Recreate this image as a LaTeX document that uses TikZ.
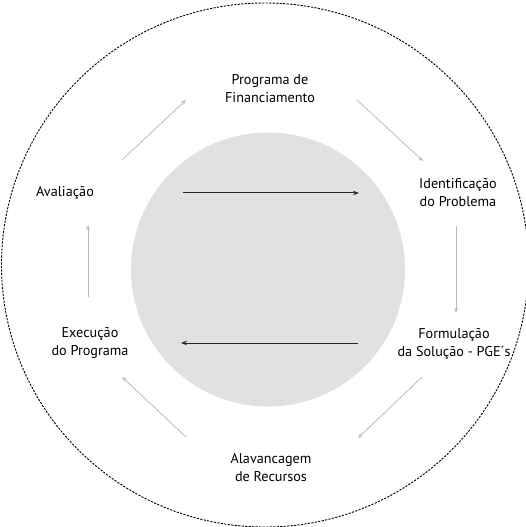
\documentclass[tikz,border=0pt]{standalone}
\usepackage{fontspec}
\setmainfont{PT Sans}
\usetikzlibrary{arrows.meta}
\definecolor{circgray}{HTML}{E1E1E3}
\definecolor{arrgray}{HTML}{BBBBBB}
\begin{document}
\begin{tikzpicture}[x=1bp,y=-1bp,
  lbl/.style={align=center,font=\fontsize{14.2bp}{18bp}\selectfont,text=black,inner sep=0pt},
  cyc/.style={draw=arrgray,line width=0.8bp,-{Stealth[length=5bp,width=4bp]}},
  mainarr/.style={draw=black!85,line width=1bp,-{Stealth[length=6bp,width=4.5bp]}}]
\useasboundingbox (0,0) rectangle (526,527);
\draw[black,line width=0.9bp,dash pattern=on 2.2bp off 1.3bp] (265,265) ellipse [x radius=263.5, y radius=262];
\fill[circgray] (268,269.5) circle [radius=137];
\node[lbl] (prog) at (270,89) {Programa de\\Financiamento};
\node[lbl] (ident) at (458,193) {Identificação\\do Problema};
\node[lbl] (form) at (454,344) {Formulação\\da Solução - PGE´s};
\node[lbl] (alav) at (271,468) {Alavancagem\\de Recursos};
\node[lbl] (exec) at (90,343) {Execução\\do Programa};
\node[lbl] (aval) at (65,193) {Avaliação};
\coordinate (a1) at (122,160); \coordinate (a2) at (186,100);
\coordinate (b1) at (357,100); \coordinate (b2) at (423,161);
\coordinate (c1) at (456,226); \coordinate (c2) at (456,313);
\coordinate (d1) at (422,377); \coordinate (d2) at (358,438);
\coordinate (e1) at (186,437); \coordinate (e2) at (122,377);
\coordinate (f1) at (88,297); \coordinate (f2) at (88,225);
\draw[cyc] (a1) -- (a2);
\draw[cyc] (b1) -- (b2);
\draw[cyc] (c1) -- (c2);
\draw[cyc] (d1) -- (d2);
\draw[cyc] (e1) -- (e2);
\draw[cyc] (f1) -- (f2);
\coordinate (t1) at (183,193); \coordinate (t2) at (359,193);
\coordinate (u1) at (358,343); \coordinate (u2) at (181,343);
\draw[mainarr] (t1) -- (t2);
\draw[mainarr] (u1) -- (u2);
\end{tikzpicture}
\end{document}
